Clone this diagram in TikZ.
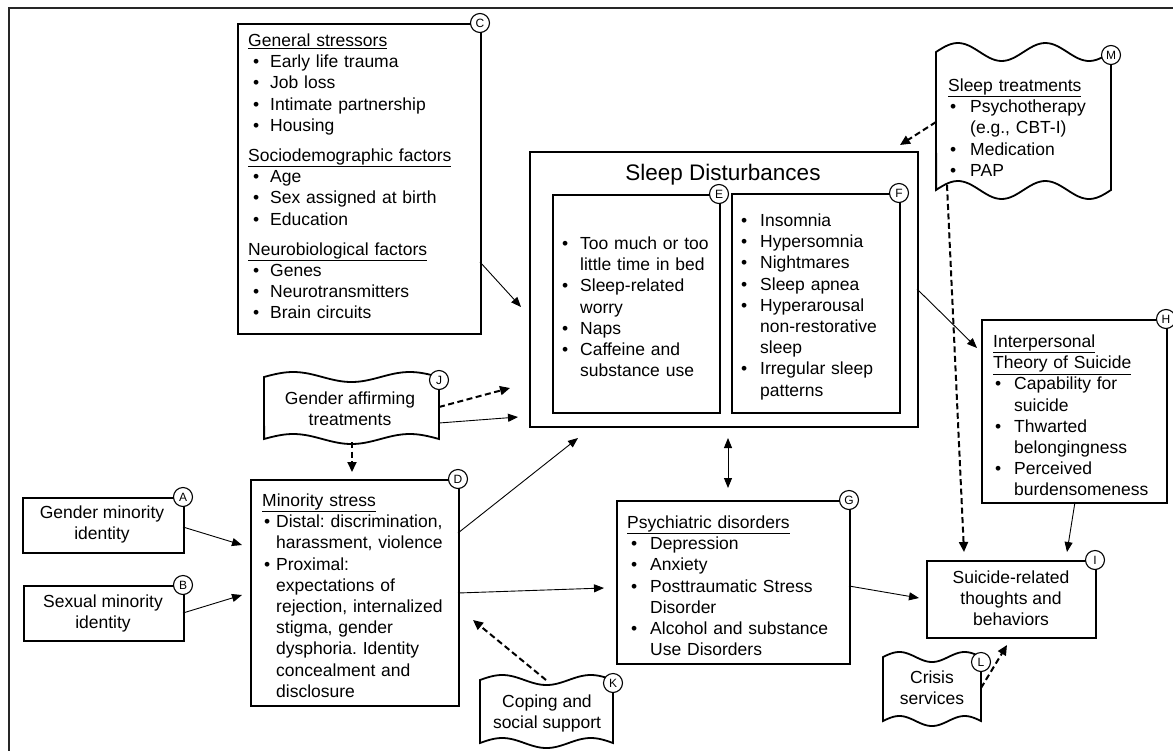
\documentclass[tikz,border=0pt]{standalone}
\usepackage{fontspec}
\setmainfont{Liberation Sans}
\usetikzlibrary{arrows.meta,calc}
\newlength\bulA \newlength\bulT
\newcommand\bi[1]{\par\hangindent=\bulT\hangafter=1\noindent\strut\hbox to\bulT{\hskip\bulA\textbullet\hfil}#1\par}
\newcommand\hd[1]{\par\noindent\strut\underline{#1}\par}
\newcommand\gap[1]{\par\vspace{#1}}
\newcommand\wavebox[6]{%
  \draw[line width=1.8pt, fill=white]
    plot[domain=0:1,samples=60] ({#1+(#2-#1)*\x},{#3-#5*sin(360*#6*\x)})
    -- plot[domain=1:0,samples=60] ({#1+(#2-#1)*\x},{#4-#5*sin(360*#6*\x)}) -- cycle;}
\begin{document}
\begin{tikzpicture}[x=1pt,y=-1pt,
  box/.style={draw, line width=1.8pt, fill=white, inner sep=0pt, anchor=north west},
  lbl/.style={circle, draw, line width=1.1pt, fill=white, inner sep=0pt, minimum size=19pt, font=\fontsize{12}{14}\selectfont},
  txt/.style={inner sep=0pt, anchor=north west, text width=260pt, align=left, font=\fontsize{17.5}{21.2}\selectfont\frenchspacing},
  ctxt/.style={inner sep=0pt, anchor=north, align=center, font=\fontsize{17.5}{21.2}\selectfont},
  arr/.style={line width=0.9pt, -{Triangle[length=10pt,width=8pt]}},
  darr/.style={line width=2pt, dash pattern=on 6pt off 3.5pt, -{Triangle[length=10pt,width=9pt]}},
  darrb/.style={line width=0.9pt, {Triangle[length=10pt,width=8pt]}-{Triangle[length=10pt,width=8pt]}}
]
\useasboundingbox (0,0) rectangle (1173,750);
\fill[white] (0,0) rectangle (1173,750);
\draw[line width=1.8pt, black!85] (1190,8) -- (9,8) -- (9,770);

% boxes
\node[box, minimum width=243pt, minimum height=310pt] (C) at (237,23) {};
\node[box, minimum width=388pt, minimum height=275pt] (SD) at (529,151) {};
\node[box, minimum width=167pt, minimum height=218pt] (E) at (552,194) {};
\node[box, minimum width=168pt, minimum height=219pt] (F) at (731,193) {};
\node[box, minimum width=185pt, minimum height=183pt] (H) at (981,319) {};
\node[box, minimum width=169pt, minimum height=77pt] (I) at (926,560) {};
\node[box, minimum width=233pt, minimum height=163pt] (G) at (616,500) {};
\node[box, minimum width=208pt, minimum height=226pt] (D) at (250,479) {};
\node[box, minimum width=161pt, minimum height=55pt] (A) at (22,497) {};
\node[box, minimum width=160pt, minimum height=55pt] (B) at (23,585) {};

% wavy boxes
\wavebox{936}{1111}{52}{190}{9}{2}
\wavebox{264}{439}{377}{439}{5}{1.5}
\wavebox{480}{613}{680}{743}{5}{1.5}
\wavebox{883}{981}{657}{721}{5}{1.5}

% texts
\node[txt] (Ct) at (248,25.16) {\setlength\bulA{5pt}\setlength\bulT{22pt}%
\hd{General stressors}\bi{Early life trauma}\bi{Job loss}\bi{Intimate partnership}\bi{Housing}\gap{9pt}%
\hd{Sociodemographic factors}\bi{Age}\bi{Sex assigned at birth}\bi{Education}\gap{9pt}%
\hd{Neurobiological factors}\bi{Genes}\bi{Neurotransmitters}\bi{Brain circuits}};
\node[anchor=base, inner sep=0pt, font=\fontsize{22.5}{27}\selectfont] (SDt) at (723,180) {Sleep Disturbances};
\node[txt] (Et) at (552,228.16) {\setlength\bulA{10pt}\setlength\bulT{28pt}%
\bi{Too much or too\newline little time in bed}\bi{Sleep-related\newline worry}\bi{Naps}\bi{Caffeine and\newline substance use}};
\node[txt] (Ft) at (731,205.16) {\setlength\bulA{10pt}\setlength\bulT{29pt}%
\bi{Insomnia}\bi{Hypersomnia}\bi{Nightmares}\bi{Sleep apnea}\bi{Hyperarousal\newline non-restorative\newline sleep}\bi{Irregular sleep\newline patterns}};
\node[txt] (Mt) at (948,70.16) {\setlength\bulA{2pt}\setlength\bulT{22pt}%
\hd{Sleep treatments}\bi{Psychotherapy\newline (e.g., CBT-I)}\bi{Medication}\bi{PAP}};
\node[txt] (Ht) at (993,326.16) {\setlength\bulA{2pt}\setlength\bulT{21pt}%
\hd{Interpersonal}\hd{Theory of Suicide}\bi{Capability for\newline suicide}\bi{Thwarted\newline belongingness}\bi{Perceived\newline burdensomeness}};
\node[txt] (Gt) at (627,507.16) {\setlength\bulA{4pt}\setlength\bulT{23pt}%
\hd{Psychiatric disorders}\bi{Depression}\bi{Anxiety}\bi{Posttraumatic Stress\newline Disorder}\bi{Alcohol and substance\newline Use Disorders}};
\node[txt] (Dt) at (262,485.16) {\setlength\bulA{2pt}\setlength\bulT{14pt}%
\hd{Minority stress}\bi{Distal: discrimination,\newline harassment, violence}\bi{Proximal:\newline expectations of\newline rejection, internalized\newline stigma, gender\newline dysphoria. Identity\newline concealment and\newline disclosure}};
\node[ctxt] (At) at (102,503.16) {\strut Gender minority\\identity};
\node[ctxt] (Bt) at (103,592.16) {\strut Sexual minority\\identity};
\node[ctxt] (It) at (1011,568.16) {\strut Suicide-related\\thoughts and\\behaviors};
\node[ctxt] (J) at (350,389.16) {\strut Gender affirming\\treatments};
\node[ctxt] (K) at (547,692.16) {\strut Coping and\\social support};
\node[ctxt] (L) at (932,668.16) {\strut Crisis\\services};

% connector end points
\coordinate (c1) at (480,262);   \coordinate (sd1) at (521,307);
\coordinate (m1) at (936,122);   \coordinate (sd2) at (900,145);
\coordinate (m2) at (947,185);   \coordinate (i1) at (964,552);
\coordinate (sd3) at (917,289);  \coordinate (h1) at (977,348);
\coordinate (h2) at (1075,502);  \coordinate (i2) at (1067,552);
\coordinate (sd4) at (728,438);  \coordinate (g1) at (728,488);
\coordinate (g2) at (849,586);   \coordinate (i3) at (919,598);
\coordinate (j1) at (439,407);   \coordinate (sd5) at (510,388);
\coordinate (j2) at (439,423);   \coordinate (sd6) at (518,417);
\coordinate (j3) at (352,442);   \coordinate (d1) at (352,472);
\coordinate (a1) at (183,527);   \coordinate (d2) at (242,545);
\coordinate (b1) at (183,613);   \coordinate (d3) at (242,595);
\coordinate (d4) at (458,533);   \coordinate (sd7) at (578,438);
\coordinate (d5) at (458,593);   \coordinate (g3) at (604,588);
\coordinate (k1) at (546,680);   \coordinate (d6) at (473,620);
\coordinate (l1) at (981,688);   \coordinate (i4) at (1007,645);

% connectors
\draw[arr] (c1) -- (sd1);
\draw[darr] (m1) -- (sd2);
\draw[darr] (m2) -- (i1);
\draw[arr] (sd3) -- (h1);
\draw[arr] (h2) -- (i2);
\draw[darrb] (sd4) -- (g1);
\draw[arr] (g2) -- (i3);
\draw[darr] (j1) -- (sd5);
\draw[arr] (j2) -- (sd6);
\draw[darr] (j3) -- (d1);
\draw[arr] (a1) -- (d2);
\draw[arr] (b1) -- (d3);
\draw[arr] (d4) -- (sd7);
\draw[arr] (d5) -- (g3);
\draw[darr] (k1) -- (d6);
\draw[darr] (l1) -- (i4);

% letter labels
\node[lbl] (lA) at (183,497) {A};
\node[lbl] (lB) at (183,585) {B};
\node[lbl] (lC) at (480,23) {C};
\node[lbl] (lD) at (458,479) {D};
\node[lbl] (lE) at (719,194) {E};
\node[lbl] (lF) at (899,193) {F};
\node[lbl] (lG) at (849,500) {G};
\node[lbl] (lH) at (1166,319) {H};
\node[lbl] (lI) at (1095,560) {I};
\node[lbl] (lJ) at (439,380) {J};
\node[lbl] (lK) at (613,683) {K};
\node[lbl] (lL) at (981,662) {L};
\node[lbl] (lM) at (1111,55) {M};
\end{tikzpicture}
\end{document}
